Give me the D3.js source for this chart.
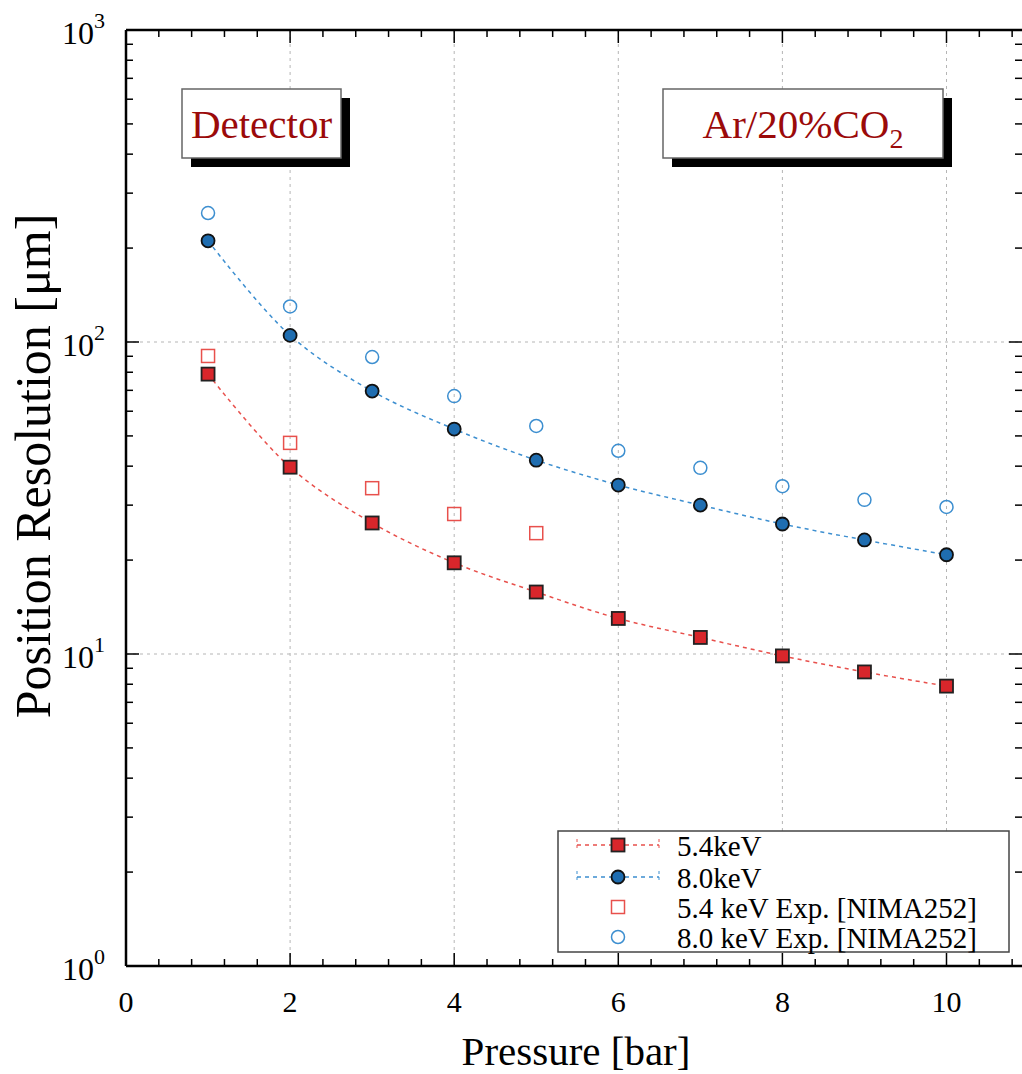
<!DOCTYPE html>
<html><head><meta charset="utf-8">
<script src="https://cdn.jsdelivr.net/npm/d3@7"></script>
<style>body{margin:0;background:#fff}svg{display:block}text{font-family:"Liberation Serif","DejaVu Serif",serif}</style>
</head><body>
<script>
const pressure = [1,2,3,4,5,6,7,8,9,10];
const sim54 = [78.9,39.7,26.3,19.6,15.8,13.0,11.3,9.86,8.76,7.89];
const sim80 = [211,105,69.6,52.6,41.8,34.8,30.0,26.1,23.2,20.8];
const expPressure54 = [1,2,3,4,5];
const exp54 = [90.2,47.5,34.0,28.1,24.4];
const exp80 = [259,130,89.5,67.1,53.8,44.8,39.5,34.5,31.2,29.6];
const xTicks = [0,2,4,6,8,10];
const yTickExp = [0,1,2,3];
const legendLabels = ["5.4keV","8.0keV","5.4 keV Exp. [NIMA252]","8.0 keV Exp. [NIMA252]"];

const W=1022,H=1074;
const L=126,R=1022,T=30,B=966;
const svg=d3.select("body").append("svg").attr("width",W).attr("height",H);
const x=d3.scaleLinear().domain([0,10.9]).range([L,L+82.05*10.9]);
const y=d3.scaleLog().domain([1,1000]).range([B,T]);

const red="#d8262b", blue="#1f6db0", redL="#e8504c", blueL="#3d8fd0";

// grid
const grid=svg.append("g").attr("stroke","#b5b5b5").attr("stroke-width",1).attr("stroke-dasharray","3,4");
xTicks.filter(d=>d>0).forEach(d=>grid.append("line").attr("x1",x(d)).attr("x2",x(d)).attr("y1",T).attr("y2",B));
[10,100].forEach(d=>grid.append("line").attr("x1",L).attr("x2",R).attr("y1",y(d)).attr("y2",y(d)));

// axes
const ax=svg.append("g").attr("stroke","#000");
const minorX=d3.range(0,10.9,0.4).filter(v=>Math.abs(v/2-Math.round(v/2))>1e-6);
function xt(v,len){
  ax.append("line").attr("x1",x(v)).attr("x2",x(v)).attr("y1",B).attr("y2",B-len).attr("stroke-width",1.5);
  ax.append("line").attr("x1",x(v)).attr("x2",x(v)).attr("y1",T).attr("y2",T+len).attr("stroke-width",1.5);
}
xTicks.forEach(v=>xt(v,13)); minorX.forEach(v=>xt(v,7));
function yt(v,len){
  ax.append("line").attr("x1",L).attr("x2",L+len).attr("y1",y(v)).attr("y2",y(v)).attr("stroke-width",1.5);
  ax.append("line").attr("x1",R).attr("x2",R-len).attr("y1",y(v)).attr("y2",y(v)).attr("stroke-width",1.5);
}
yTickExp.forEach(e=>yt(Math.pow(10,e),13));
[0,1,2].forEach(e=>d3.range(2,10).forEach(m=>yt(m*Math.pow(10,e),7)));
ax.append("line").attr("x1",L).attr("x2",L).attr("y1",T).attr("y2",B).attr("stroke-width",2.5);
ax.append("line").attr("x1",L).attr("x2",R).attr("y1",B).attr("y2",B).attr("stroke-width",2.5);
ax.append("line").attr("x1",L).attr("x2",R).attr("y1",T).attr("y2",T).attr("stroke-width",2.5);

// tick labels
xTicks.forEach(v=>svg.append("text").attr("x",x(v)).attr("y",1012).attr("text-anchor","middle").attr("font-size",30).text(v));
yTickExp.forEach(e=>{
  const t=svg.append("text").attr("x",105).attr("y",y(Math.pow(10,e))+14).attr("text-anchor","end").attr("font-size",32);
  t.append("tspan").text("10");
  t.append("tspan").attr("dy",-16).attr("font-size",22).text(e);
});
svg.append("text").attr("transform","translate(50,466) rotate(-90)").attr("text-anchor","middle").attr("font-size",50).text("Position Resolution [μm]");
svg.append("text").attr("x",576).attr("y",1065).attr("text-anchor","middle").attr("font-size",41).text("Pressure [bar]");

// label boxes
function box(x0,x1){
  svg.append("rect").attr("x",x0+9).attr("y",98).attr("width",x1-x0).attr("height",69).attr("fill","#000");
  svg.append("rect").attr("x",x0).attr("y",89).attr("width",x1-x0).attr("height",69).attr("fill","#fff").attr("stroke","#666").attr("stroke-width",1.5);
  return svg.append("text").attr("x",(x0+x1)/2).attr("y",138).attr("text-anchor","middle").attr("font-size",41).attr("fill","#9b0a0a");
}
box(182,341).text("Detector");
const t2=box(663,943);
t2.append("tspan").text("Ar/20%CO");
t2.append("tspan").attr("dy",10).attr("font-size",28).text("2");

// lines
const line=d3.line().x(d=>x(d[0])).y(d=>y(d[1])).curve(d3.curveCatmullRom);
svg.append("path").datum(pressure.map((p,i)=>[p,sim54[i]])).attr("d",line).attr("fill","none").attr("stroke",redL).attr("stroke-width",1.5).attr("stroke-dasharray","4,4");
svg.append("path").datum(pressure.map((p,i)=>[p,sim80[i]])).attr("d",line).attr("fill","none").attr("stroke",blueL).attr("stroke-width",1.5).attr("stroke-dasharray","4,4");

// markers
function sq(g,cx,cy,fill,stroke,sw){g.append("rect").attr("x",cx-6.5).attr("y",cy-6.5).attr("width",13).attr("height",13).attr("fill",fill).attr("stroke",stroke).attr("stroke-width",sw);}
function ci(g,cx,cy,fill,stroke,sw){g.append("circle").attr("cx",cx).attr("cy",cy).attr("r",6.5).attr("fill",fill).attr("stroke",stroke).attr("stroke-width",sw);}
const mg=svg.append("g");
expPressure54.forEach((p,i)=>sq(mg,x(p),y(exp54[i]),"none",redL,1.5));
pressure.forEach((p,i)=>ci(mg,x(p),y(exp80[i]),"none",blueL,1.5));
pressure.forEach((p,i)=>sq(mg,x(p),y(sim54[i]),red,"#222",1.8));
pressure.forEach((p,i)=>ci(mg,x(p),y(sim80[i]),blue,"#111",1.8));

// legend
const lg=svg.append("g");
lg.append("rect").attr("x",558).attr("y",831).attr("width",451).attr("height",121).attr("fill","#fff").attr("stroke","#444").attr("stroke-width",1.5);
const rows=[845,877,907,937];
[redL,blueL].forEach((c,i)=>{
  lg.append("line").attr("x1",577).attr("x2",659).attr("y1",rows[i]).attr("y2",rows[i]).attr("stroke",c).attr("stroke-width",1.5).attr("stroke-dasharray","4,4");
  [577,659].forEach(xx=>lg.append("line").attr("x1",xx).attr("x2",xx).attr("y1",rows[i]-6).attr("y2",rows[i]+6).attr("stroke",c).attr("stroke-width",1).attr("stroke-dasharray","3,3"));
});
sq(lg,618,rows[0],red,"#222",1.8);
ci(lg,618,rows[1],blue,"#111",1.8);
sq(lg,618,rows[2],"none",redL,1.5);
ci(lg,618,rows[3],"none",blueL,1.5);
legendLabels.forEach((t,i)=>lg.append("text").attr("x",677).attr("y",rows[i]+11).attr("font-size",29).text(t));
</script>
</body></html>
